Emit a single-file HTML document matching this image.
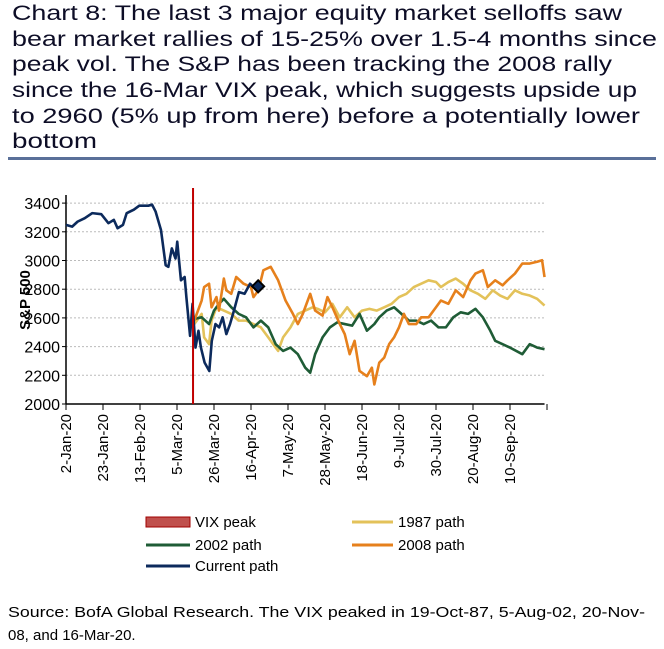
<!DOCTYPE html>
<html><head><meta charset="utf-8"><style>
html,body{margin:0;padding:0;background:#fff;}
svg{display:block;font-family:"Liberation Sans",Arial,sans-serif;}
</style></head><body>
<svg id="chart" width="664" height="649" viewBox="0 0 664 649" xmlns="http://www.w3.org/2000/svg">
<g fill="#0d0d26" font-size="21">
<text x="12" y="20" textLength="610" lengthAdjust="spacingAndGlyphs">Chart 8: The last 3 major equity market selloffs saw</text>
<text x="12" y="46" textLength="645" lengthAdjust="spacingAndGlyphs">bear market rallies of 15-25% over 1.5-4 months since</text>
<text x="12" y="71" textLength="600" lengthAdjust="spacingAndGlyphs">peak vol. The S&amp;P has been tracking the 2008 rally</text>
<text x="12" y="97" textLength="625" lengthAdjust="spacingAndGlyphs">since the 16-Mar VIX peak, which suggests upside up</text>
<text x="12" y="123" textLength="628" lengthAdjust="spacingAndGlyphs">to 2960 (5% up from here) before a potentially lower</text>
<text x="12" y="148" textLength="85" lengthAdjust="spacingAndGlyphs">bottom</text>
</g>
<rect x="8" y="157" width="648" height="3" fill="#5a7099"/>
<g id="plot"></g>
<g font-size="15" fill="#000">
<rect x="146" y="517" width="44" height="10" fill="#c0504d" stroke="#a00000" stroke-width="1"/>
<text x="195" y="527">VIX peak</text>
<line x1="146" y1="545" x2="190" y2="545" stroke="#1f5c36" stroke-width="3"/>
<text x="195" y="550">2002 path</text>
<line x1="146" y1="566" x2="190" y2="566" stroke="#0c2a5c" stroke-width="3"/>
<text x="195" y="571">Current path</text>
<line x1="352" y1="522" x2="393" y2="522" stroke="#e3c25a" stroke-width="3"/>
<text x="398" y="527">1987 path</text>
<line x1="352" y1="545" x2="393" y2="545" stroke="#e6801c" stroke-width="3"/>
<text x="398" y="550">2008 path</text>
</g>
<g font-size="15" fill="#000">
<text x="8" y="617" textLength="637" lengthAdjust="spacingAndGlyphs">Source: BofA Global Research. The VIX peaked in 19-Oct-87, 5-Aug-02, 20-Nov-</text>
<text x="8" y="640">08, and 16-Mar-20.</text>
</g>
</svg>
<script>
const yTicks = [2000,2200,2400,2600,2800,3000,3200,3400];
const xTickLabels = ["2-Jan-20","23-Jan-20","13-Feb-20","5-Mar-20","26-Mar-20","16-Apr-20","7-May-20","28-May-20","18-Jun-20","9-Jul-20","30-Jul-20","20-Aug-20","10-Sep-20"];
const vixPeakDay = 51.5;
const currentDays = [0,2.5,4.7,7.6,10.6,14.3,17.2,19.4,20.9,23.1,24.6,27.5,29.7,33.4,34.9,36.3,38.5,40.4,41.5,42.9,44.4,45.1,46.6,48.1,48.8,50.3,51.3,52.5,53.7,54.7,56.2,58.1,59.1,60.6,62.1,63.5,65,66.5,67.9,70.1,72.4,74.6,76,77.9];
const currentVals = [3248,3236,3271,3295,3330,3323,3260,3283,3225,3248,3330,3354,3382,3382,3389,3342,3213,2967,2956,3084,3014,3131,2862,2885,2745,2475,2698,2393,2510,2393,2288,2230,2440,2557,2534,2604,2487,2557,2639,2780,2768,2838,2815,2820];
const d1987Days = [52,55,56,58,59,61,64,67,70,73,76,79,82,85,86,88,91,94,97,100,102,105,108,111,114,117,120,123,126,129,132,135,138,141,144,147,150,152,155,158,161,164,167,170,173,176,179,182,185,188,191,194];
const d1987Vals = [2557,2628,2464,2417,2581,2674,2651,2628,2581,2581,2557,2534,2464,2393,2370,2464,2534,2628,2651,2674,2663,2639,2698,2604,2674,2604,2651,2663,2651,2674,2698,2745,2768,2815,2838,2862,2850,2815,2850,2874,2838,2792,2768,2733,2792,2756,2733,2792,2768,2756,2733,2686];
const d2002Days = [52,55,58,60,62,64,67,70,73,76,79,82,85,88,91,94,97,99,101,104,107,110,113,116,119,122,125,127,130,133,136,139,142,145,148,151,154,157,160,163,166,169,172,174,177,180,185,188,191,194];
const d2002Vals = [2593,2604,2557,2651,2698,2733,2674,2628,2604,2534,2581,2534,2417,2370,2393,2347,2253,2218,2347,2464,2534,2569,2557,2546,2628,2511,2557,2604,2651,2674,2628,2581,2581,2557,2581,2534,2534,2604,2639,2628,2663,2604,2511,2440,2417,2393,2347,2417,2393,2382];
const d2008Days = [52,55,56,58,59,61,62,64,65,67,69,72,75,76,78,80,83,86,89,92,94,96,99,101,104,106,108,111,113,115,117,119,122,124,125,127,129,131,133,135,137,139,142,144,147,150,152,155,158,161,164,166,169,171,174,177,179,182,185,188,191,193,194];
const d2008Vals = [2581,2721,2815,2838,2674,2745,2651,2874,2792,2768,2885,2838,2815,2745,2792,2932,2956,2862,2721,2628,2557,2628,2768,2651,2616,2745,2674,2557,2487,2347,2440,2230,2194,2253,2136,2288,2323,2417,2464,2534,2628,2557,2557,2604,2604,2674,2721,2698,2792,2745,2862,2909,2932,2815,2862,2827,2862,2909,2979,2979,2991,3002,2885];
const markerDay = 77.9, markerVal = 2820;

const NS="http://www.w3.org/2000/svg";
const plot=document.getElementById('plot');
const X0=66, PX_PER_DAY=37/15, Y0=404, PX_PER_UNIT=28.7/200;
const xs=d=>X0+d*PX_PER_DAY;
const ys=v=>Y0-(v-2000)*PX_PER_UNIT;
function mk(tag,attrs){const e=document.createElementNS(NS,tag);for(const k in attrs)e.setAttribute(k,attrs[k]);plot.appendChild(e);return e;}

yTicks.forEach(v=>{
  if(v>2000){const g=mk('line',{x1:X0,x2:545,y1:ys(v),y2:ys(v),stroke:'#bbb','stroke-dasharray':'2,2','stroke-width':1});
  
  }
  const t=mk('text',{x:X0-6,y:ys(v)+6,'text-anchor':'end','font-size':16,fill:'#000'});
  
  
  t.textContent=v;
  const tk=mk('line',{x1:X0-4,x2:X0,y1:ys(v),y2:ys(v),stroke:'#000'});
  
  
});
const yt=mk('text',{transform:'translate(30,300) rotate(-90)','text-anchor':'middle','font-size':15,'font-weight':'bold',fill:'#000'});


yt.textContent='S&P 500';

for(let i=0;i<=13;i++){
  const x=xs(i*15);
  const tk=mk('line',{x1:x,x2:x,y1:Y0,y2:Y0+6,stroke:'#000'});
  
  
  if(i<xTickLabels.length){
    const t=mk('text',{transform:`translate(${x+5},${Y0+10}) rotate(-90)`,'text-anchor':'end','font-size':15,fill:'#000'});
    
    
    t.textContent=xTickLabels[i];
  }
}
const ax=mk('line',{x1:X0,x2:X0,y1:195,y2:Y0,stroke:'#000','stroke-width':1.5});


const axx=mk('line',{x1:X0,x2:xs(194),y1:Y0,y2:Y0,stroke:'#000','stroke-width':1.5});



function series(days,vals,color,name){
  const p=mk('polyline',{points:days.map((d,i)=>xs(d)+','+ys(vals[i])).join(' '),fill:'none',stroke:color,'stroke-width':2.6,'stroke-linejoin':'round'});
  
  
}
series(d1987Days,d1987Vals,'#e3c25a','line-1987-path');
series(d2002Days,d2002Vals,'#1f5c36','line-2002-path');
series(d2008Days,d2008Vals,'#e6801c','line-2008-path');
series(currentDays,currentVals,'#0c2a5c','line-current-path');
const vx=mk('line',{x1:xs(vixPeakDay),x2:xs(vixPeakDay),y1:188,y2:Y0,stroke:'#c00000','stroke-width':2});


const mx=xs(markerDay),my=ys(markerVal);
const dm=mk('polygon',{points:`${mx},${my-6} ${mx+6},${my} ${mx},${my+6} ${mx-6},${my}`,fill:'#0c2a5c',stroke:'#000','stroke-width':2});


</script>
</body></html>
